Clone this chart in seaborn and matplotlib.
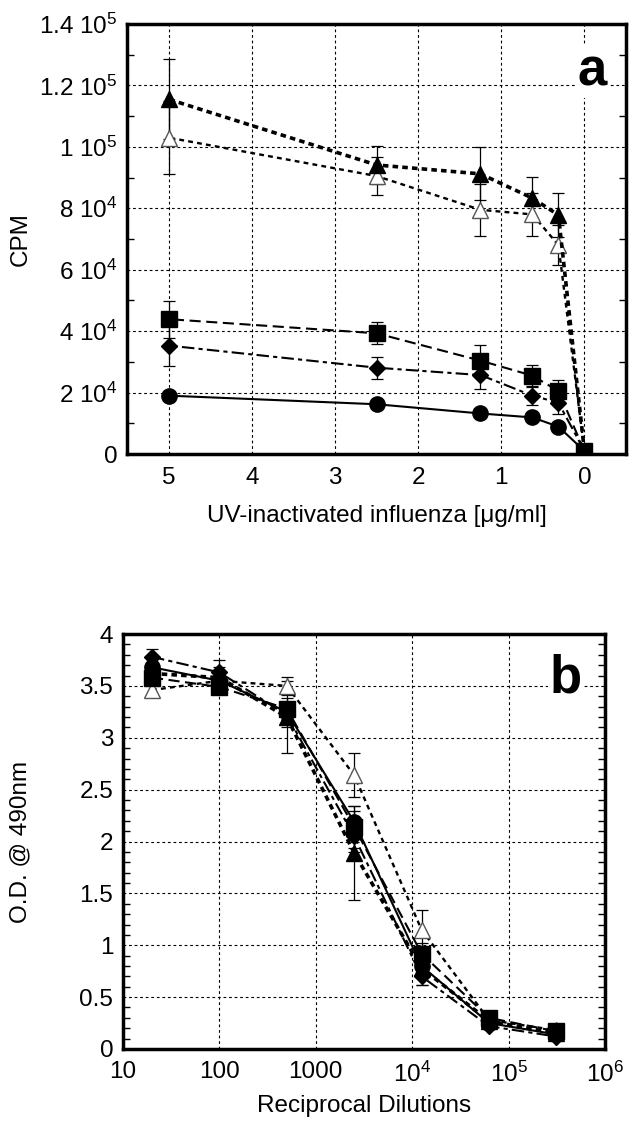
import numpy as np
import matplotlib
matplotlib.use("Agg")
import matplotlib.pyplot as plt
import pandas as pd
import seaborn as sns
from matplotlib.ticker import MultipleLocator, NullLocator

# ---- panel a: CPM vs UV-inactivated influenza
conc = [5, 2.5, 1.25, 0.625, 0.3125, 0]
a_tri_fill = [115500, 94100, 91200, 83300, 77800, 1000]
a_tri_fill_err = [13000, 6300, 8600, 7000, 7300, 0]
a_tri_open = [103000, 90500, 79500, 78000, 68000, 1000]
a_tri_open_err = [12000, 6200, 8500, 7000, 6500, 0]
a_square = [43900, 39300, 30400, 25500, 20500, 1000]
a_square_err = [6000, 3600, 5000, 3600, 3600, 0]
a_diamond = [35300, 28100, 25700, 19000, 16700, 1000]
a_diamond_err = [6700, 3600, 4500, 3000, 3800, 0]
a_circle = [19000, 16200, 13200, 11900, 8900, 1000]
a_circle_err = [1500, 800, 800, 1000, 800, 0]

# ---- panel b: OD vs reciprocal dilution
dil = [20, 100, 500, 2500, 12500, 62500, 312500]
b_tri_fill = [3.62, 3.58, 3.20, 1.89, 0.78, 0.27, 0.15]
b_tri_fill_err = [0.08, 0.10, 0.35, 0.45, 0.16, 0.03, 0.03]
b_tri_open = [3.46, 3.55, 3.50, 2.64, 1.15, 0.28, 0.18]
b_tri_open_err = [0.06, 0.08, 0.09, 0.21, 0.19, 0.03, 0.03]
b_square = [3.58, 3.49, 3.28, 2.14, 0.92, 0.30, 0.17]
b_square_err = [0.05, 0.05, 0.10, 0.20, 0.10, 0.03, 0.03]
b_diamond = [3.78, 3.63, 3.22, 2.05, 0.70, 0.22, 0.12]
b_diamond_err = [0.08, 0.12, 0.12, 0.15, 0.08, 0.03, 0.03]
b_circle = [3.68, 3.55, 3.25, 2.19, 0.80, 0.25, 0.14]
b_circle_err = [0.05, 0.05, 0.08, 0.10, 0.08, 0.02, 0.02]

sns.set_theme(style="ticks")
plt.rcParams["font.family"] = ["Liberation Sans", "DejaVu Sans"]
plt.rcParams["mathtext.fontset"] = "custom"
plt.rcParams["mathtext.rm"] = "Liberation Sans"
plt.rcParams["mathtext.it"] = "Liberation Sans"
plt.rcParams["mathtext.default"] = "regular"
plt.rcParams["lines.scale_dashes"] = False
plt.rcParams["text.color"] = "black"
plt.rcParams["axes.labelcolor"] = "black"

tick_size = 17.5
label_size = 17.5

# marker / line style per series
styles = {
    "tri_fill": dict(marker="^", ms=12, mfc="black", mec="black", lw=2.6, ls=(0, (4, 3))),
    "tri_open": dict(marker="^", ms=12, mfc="white", mec="#555555", lw=1.7, ls=(0, (3.5, 3))),
    "square": dict(marker="s", ms=12, mfc="black", mec="black", lw=1.5, ls=(0, (8, 4))),
    "diamond": dict(marker="D", ms=8.5, mfc="black", mec="black", lw=1.5, ls=(0, (9, 3, 3, 3))),
    "circle": dict(marker="o", ms=11, mfc="black", mec="black", lw=1.5, ls="-"),
}


def draw(ax, x, series):
    for key, y, err in series:
        st = styles[key]
        ax.errorbar(x, y, yerr=err, fmt="none", ecolor="black",
                    elinewidth=0.9, capsize=4, capthick=0.9, zorder=2)
        sns.lineplot(x=x, y=y, ax=ax, color="black", linewidth=st["lw"],
                     linestyle=st["ls"], marker=st["marker"],
                     markersize=st["ms"], markerfacecolor=st["mfc"],
                     markeredgecolor=st["mec"], markeredgewidth=1.0,
                     errorbar=None, zorder=3)


def frame(ax):
    for s in ax.spines.values():
        s.set_linewidth(2.5)
        s.set_color("black")
    ax.grid(True, which="major", color="black", linestyle=(0, (2, 2)), linewidth=0.8)
    ax.tick_params(axis="y", which="both", direction="in", left=True, right=True,
                   labelsize=tick_size, colors="black", pad=7)
    ax.tick_params(axis="y", which="major", length=0)
    ax.tick_params(axis="y", which="minor", length=5, width=1)
    ax.tick_params(axis="x", which="both", direction="in", length=0,
                   labelsize=tick_size, pad=9, colors="black")


fig = plt.figure(figsize=(6.32, 11.26), dpi=100)

# ---------------- panel a
ax1 = fig.add_axes([0.201, 0.5968, 0.7895, 0.3819])
draw(ax1, conc, [
    ("circle", a_circle, a_circle_err),
    ("diamond", a_diamond, a_diamond_err),
    ("tri_open", a_tri_open, a_tri_open_err),
    ("tri_fill", a_tri_fill, a_tri_fill_err),
    ("square", a_square, a_square_err),
])
ax1.set_xlim(5.5, -0.5)
ax1.set_ylim(0, 140000)
ax1.set_xticks([5, 4, 3, 2, 1, 0])
ax1.set_xticklabels(["5", "4", "3", "2", "1", "0"])
ax1.set_yticks(np.arange(0, 140001, 20000))
ax1.set_yticklabels(["0", r"2 $10^{4}$", r"4 $10^{4}$", r"6 $10^{4}$", r"8 $10^{4}$",
                     r"1 $10^{5}$", r"1.2 $10^{5}$", r"1.4 $10^{5}$"])
ax1.yaxis.set_minor_locator(MultipleLocator(10000))
ax1.xaxis.set_minor_locator(NullLocator())
frame(ax1)
ax1.set_xlabel("UV-inactivated influenza [\u03bcg/ml]", fontsize=label_size)
ax1.set_ylabel("CPM", fontsize=label_size)
ax1.xaxis.set_label_coords(0.5, -0.118)
ax1.yaxis.set_label_coords(-0.19, 0.5)
ax1.text(0.962, 0.856, "a", transform=ax1.transAxes, ha="right", va="baseline",
         fontsize=38, fontweight="bold", zorder=5,
         bbox=dict(facecolor="white", edgecolor="none", pad=1))

# ---------------- panel b
ax2 = fig.add_axes([0.1946, 0.0684, 0.7627, 0.3685])
draw(ax2, dil, [
    ("tri_open", b_tri_open, b_tri_open_err),
    ("tri_fill", b_tri_fill, b_tri_fill_err),
    ("diamond", b_diamond, b_diamond_err),
    ("circle", b_circle, b_circle_err),
    ("square", b_square, b_square_err),
])
ax2.set_xscale("log")
ax2.set_xlim(10, 1e6)
ax2.set_ylim(0, 4)
ax2.set_xticks([10, 100, 1000, 1e4, 1e5, 1e6])
ax2.set_xticklabels(["10", "100", "1000", r"$10^{4}$", r"$10^{5}$", r"$10^{6}$"])
ax2.xaxis.set_minor_locator(NullLocator())
ax2.set_yticks(np.arange(0, 4.01, 0.5))
ax2.set_yticklabels(["0", "0.5", "1", "1.5", "2", "2.5", "3", "3.5", "4"])
ax2.yaxis.set_minor_locator(MultipleLocator(0.1))
frame(ax2)
ax2.set_xlabel("Reciprocal Dilutions", fontsize=label_size)
ax2.set_ylabel("O.D. @ 490nm", fontsize=label_size)
ax2.xaxis.set_label_coords(0.5, -0.11)
ax2.yaxis.set_label_coords(-0.19, 0.5)
ax2.text(0.952, 0.86, "b", transform=ax2.transAxes, ha="right", va="baseline",
         fontsize=38, fontweight="bold", zorder=5,
         bbox=dict(facecolor="white", edgecolor="none", pad=1))

fig.savefig("out.png", dpi=100)
